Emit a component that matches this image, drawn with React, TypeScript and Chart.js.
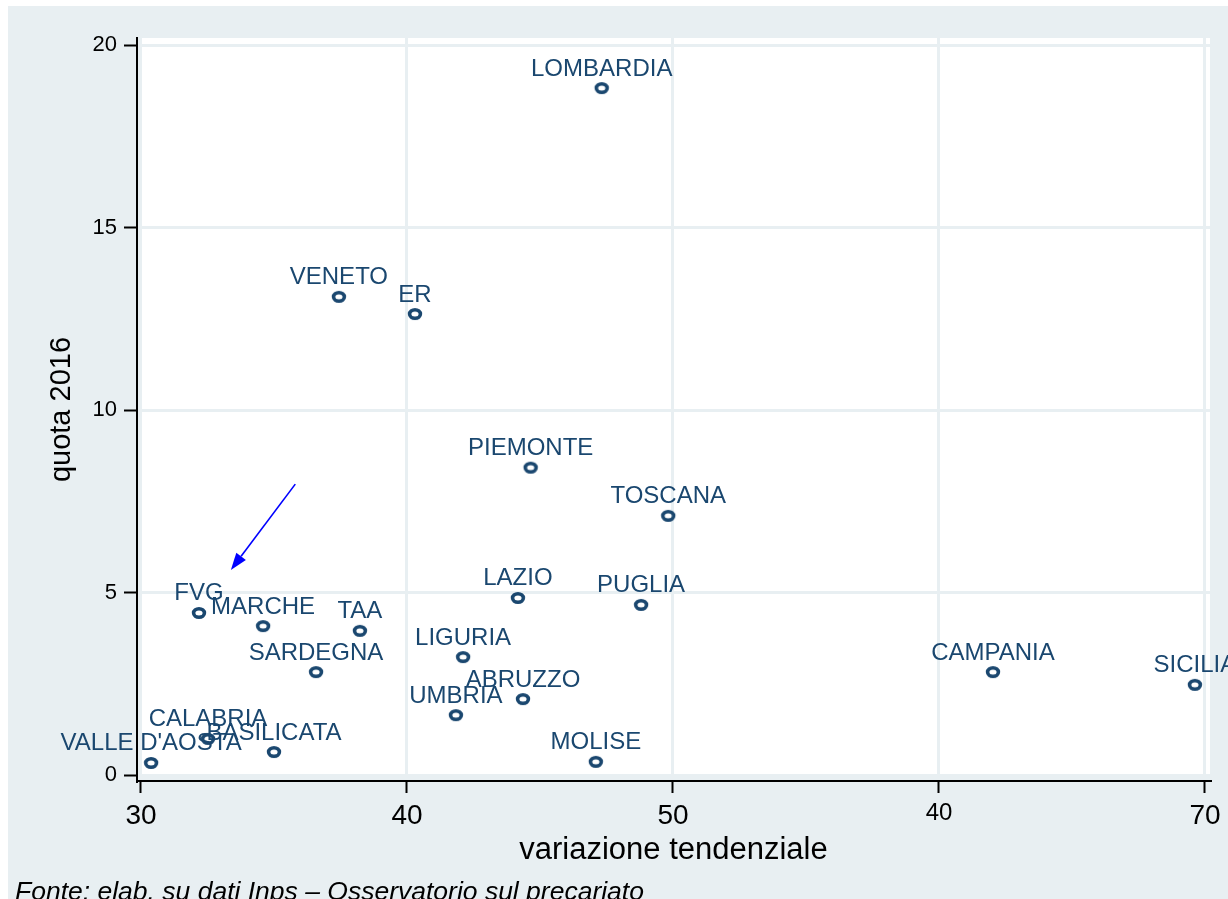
import React, { useEffect, useRef } from "react";
import { Chart, registerables } from "chart.js";

Chart.register(...registerables);

// ---- data ----
const regions = [
  "LOMBARDIA", "VENETO", "ER", "PIEMONTE", "TOSCANA", "LAZIO", "PUGLIA", "FVG",
  "MARCHE", "TAA", "LIGURIA", "SARDEGNA", "CAMPANIA", "SICILIA", "ABRUZZO",
  "UMBRIA", "CALABRIA", "BASILICATA", "VALLE D'AOSTA", "MOLISE",
];
const variazione = [
  47.32, 37.44, 40.3, 44.65, 49.82, 44.17, 48.8, 32.18,
  34.59, 38.23, 42.11, 36.58, 62.03, 69.62, 44.36,
  41.84, 32.52, 35.0, 30.38, 47.1,
];
const quota = [
  18.82, 13.1, 12.63, 8.42, 7.1, 4.85, 4.66, 4.44,
  4.08, 3.95, 3.23, 2.82, 2.82, 2.47, 2.08,
  1.64, 0.99, 0.63, 0.33, 0.36,
];
const xTickValues = [30, 40, 50, 60, 70];
const xTickLabels = ["30", "40", "50", "40", "70"];
const yTickValues = [0, 5, 10, 15, 20];
const yTickLabels = ["0", "5", "10", "15", "20"];
const arrowFrom = [35.8, 7.97];
const arrowTo = [33.38, 5.62];
const xTitle = "variazione tendenziale";
const yTitle = "quota 2016";
const footer = "Fonte: elab. su dati Inps \u2013 Osservatorio sul precariato";

const FONT = "'Liberation Sans', Arial, Helvetica, sans-serif";
const NAVY = "#1a476f";
const BG = "#e8eff2";

export default function App() {
  const ref = useRef<HTMLCanvasElement>(null);

  useEffect(() => {
    document.documentElement.style.overflow = "hidden";

    const marker = document.createElement("canvas");
    marker.width = 20;
    marker.height = 16;
    const m = marker.getContext("2d")!;
    m.strokeStyle = NAVY;
    m.lineWidth = 3.6;
    m.beginPath();
    m.ellipse(10, 8, 5.4, 4.3, 0, 0, Math.PI * 2);
    m.stroke();

    const bgPlugin = {
      id: "bgPlugin",
      beforeDraw(chart: any) {
        const { ctx, chartArea: a, width, height } = chart;
        ctx.save();
        ctx.fillStyle = BG;
        ctx.fillRect(0, 0, width, height);
        ctx.fillStyle = "#ffffff";
        ctx.fillRect(a.left + 5, a.top, a.right - a.left - 5, a.bottom - a.top - 5);
        ctx.restore();
      },
    };

    const labelPlugin = {
      id: "labelPlugin",
      afterDatasetsDraw(chart: any) {
        const { ctx } = chart;
        const meta = chart.getDatasetMeta(0);
        ctx.save();
        ctx.font = `24px ${FONT}`;
        ctx.fillStyle = NAVY;
        ctx.textAlign = "center";
        ctx.textBaseline = "alphabetic";
        meta.data.forEach((pt: any, i: number) => {
          ctx.fillText(regions[i], pt.x, pt.y - 12.5);
        });

        // arrow
        const xs = chart.scales.x;
        const ys = chart.scales.y;
        const x1 = xs.getPixelForValue(arrowFrom[0]);
        const y1 = ys.getPixelForValue(arrowFrom[1]);
        const x2 = xs.getPixelForValue(arrowTo[0]);
        const y2 = ys.getPixelForValue(arrowTo[1]);
        const ang = Math.atan2(y2 - y1, x2 - x1);
        const hl = 17;
        const hw = 6;
        const bx = x2 - hl * Math.cos(ang);
        const by = y2 - hl * Math.sin(ang);
        ctx.strokeStyle = "#0000ff";
        ctx.fillStyle = "#0000ff";
        ctx.lineWidth = 1.6;
        ctx.beginPath();
        ctx.moveTo(x1, y1);
        ctx.lineTo(bx, by);
        ctx.stroke();
        ctx.beginPath();
        ctx.moveTo(x2, y2);
        ctx.lineTo(bx + hw * Math.sin(ang), by - hw * Math.cos(ang));
        ctx.lineTo(bx - hw * Math.sin(ang), by + hw * Math.cos(ang));
        ctx.closePath();
        ctx.fill();

        // footer
        ctx.font = `italic 26.5px ${FONT}`;
        ctx.fillStyle = "#000000";
        ctx.textAlign = "left";
        ctx.fillText(footer, 7, 894);
        ctx.restore();
      },
    };

    const chart = new Chart(ref.current!, {
      type: "scatter",
      data: {
        datasets: [
          {
            data: variazione.map((x, i) => ({ x, y: quota[i] })),
            pointStyle: marker as any,
            pointRadius: 7,
            pointHoverRadius: 7,
            borderColor: NAVY,
            backgroundColor: "transparent",
          },
        ],
      },
      options: {
        responsive: false,
        animation: false,
        events: [],
        layout: { padding: { left: 0, top: 32, right: 18, bottom: 0 } },
        plugins: {
          legend: { display: false },
          tooltip: { enabled: false },
        },
        scales: {
          x: {
            type: "linear",
            min: 29.85,
            max: 70.188,
            afterBuildTicks: (s: any) => {
              s.ticks = xTickValues.map((v) => ({ value: v }));
            },
            afterFit: (s: any) => {
              s.height = 118;
            },
            ticks: {
              autoSkip: false,
              maxRotation: 0,
              padding: 6,
              color: "#000",
              callback: (_v: any, i: number) => xTickLabels[i],
              font: (c: any) => ({ family: FONT, size: c.index === 3 ? 24 : 28 }),
            },
            grid: { color: BG, lineWidth: 3, tickColor: "#000", tickWidth: 2, tickLength: 12 },
            border: { color: "#000", width: 2 },
            title: {
              display: true,
              text: xTitle,
              color: "#000",
              font: { family: FONT, size: 31 },
              padding: { top: 0, bottom: 30 },
            },
          },
          y: {
            type: "linear",
            min: -0.164,
            max: 20.192,
            afterBuildTicks: (s: any) => {
              s.ticks = yTickValues.map((v) => ({ value: v }));
            },
            afterFit: (s: any) => {
              s.width = 129;
            },
            ticks: {
              autoSkip: false,
              padding: 7,
              color: "#000",
              callback: (_v: any, i: number) => yTickLabels[i],
              font: { family: FONT, size: 22 },
            },
            grid: { color: BG, lineWidth: 3, tickColor: "#000", tickWidth: 2, tickLength: 13 },
            border: { color: "#000", width: 2 },
            title: {
              display: true,
              text: yTitle,
              color: "#000",
              font: { family: FONT, size: 29 },
              padding: { top: 37, bottom: 0 },
            },
          },
        },
      },
      plugins: [bgPlugin, labelPlugin],
    });

    return () => chart.destroy();
  }, []);

  return (
    <div style={{ position: "fixed", left: 8, top: 6, width: 1220, height: 893 }}>
      <canvas ref={ref} width={1220} height={893} style={{ display: "block" }} />
    </div>
  );
}
